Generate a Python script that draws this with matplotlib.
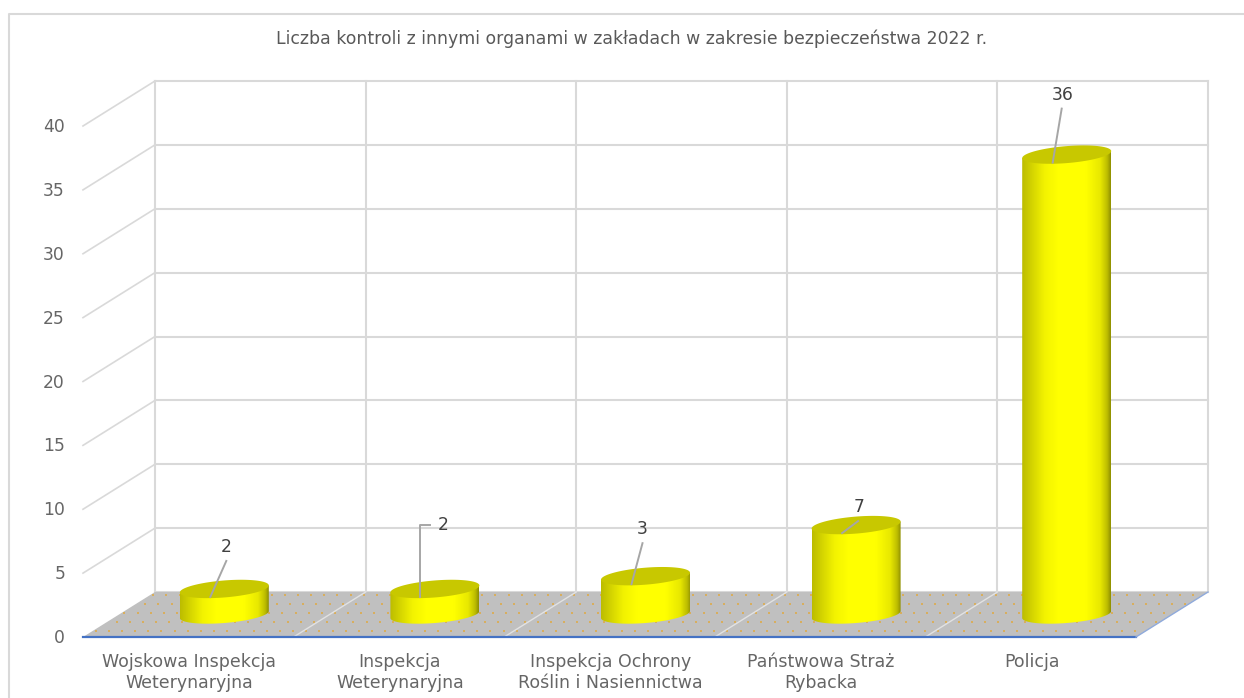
import numpy as np
import matplotlib
matplotlib.use("Agg")
import matplotlib.pyplot as plt
from matplotlib.patches import Polygon
from matplotlib.colors import LinearSegmentedColormap

plt.rcParams['font.family'] = ['DejaVu Sans']

title = "Liczba kontroli z innymi organami w zakładach w zakresie bezpieczeństwa 2022 r."
categories = ["Wojskowa Inspekcja\nWeterynaryjna", "Inspekcja\nWeterynaryjna",
              "Inspekcja Ochrony\nRoślin i Nasiennictwa", "Państwowa Straż\nRybacka", "Policja"]
values = [2, 2, 3, 7, 36]
yticks = [0, 5, 10, 15, 20, 25, 30, 35, 40]

W, H = 1244, 698
TEXT = '#666666'
GRID = '#d9d9d9'

# back wall of the 3D box, pixels
left, right, top, bottom = 155, 1208, 81, 592
fig = plt.figure(figsize=(W / 100, H / 100), dpi=100)
ax = fig.add_axes([0, 0, 1, 1])
ax.axis('off')

n = len(values)
ppx = (right - left) / n
ppy = (bottom - top) / 40
ax.set_xlim(-left / ppx, (W - left) / ppx)
ax.set_ylim((bottom - H) / ppy, bottom / ppy)
depth_x, depth_y = 72 / ppx, 45 / ppy


def project(x, y, depth):
    return x - depth * depth_x, y - depth * depth_y


# outer frame, only top and left show
fig.add_artist(plt.Line2D([9 / W, 9 / W, 1], [0, 1 - 14 / H, 1 - 14 / H], color=GRID, lw=1.5))

# floor
floor = [project(0, 0, 0), project(n, 0, 0), project(n, 0, 1), project(0, 0, 1)]
ax.add_patch(Polygon(floor, fc='#c0c0c0', ec='none', zorder=1))
u, v = np.meshgrid(np.arange(0.012, n, 0.0625), np.arange(0.06, 1, 0.2))
u = u + (np.arange(v.shape[0]) % 2)[:, None] * 0.031
dx, dy = project(u, 0, v)
keep = u < n - 0.01
ax.scatter(dx[keep], dy[keep], s=4, c='#d8ae5e', lw=0, marker='s', zorder=2)

# walls
for y in yticks:
    ax.plot([0, n], [y, y], color=GRID, lw=1.5, zorder=0)
    px, py = project(0, y, 1)
    if y > 0:
        ax.plot([0, px], [y, py], color=GRID, lw=1.2, zorder=0)
    ax.annotate(str(y), (px, py), xytext=(-18, -1), textcoords='offset pixels', ha='right', va='center',
                color=TEXT, fontsize=12.3)
for i in range(n + 1):
    ax.plot([i, i], [0, 40], color=GRID, lw=1.5, zorder=0)
    if 0 < i < n:
        fx, fy = project(i, 0, 1)
        ax.plot([i, fx], [0, fy], color='#e2e2e2', lw=1, zorder=3)

# front and right floor edges
ax.plot(*zip(project(0, 0, 1), project(n, 0, 1)), color='#4472c4', lw=1.6, zorder=4)
ax.plot(*zip(project(n, 0, 1), project(n, 0, 0)), color='#8faadc', lw=1, zorder=4)

# cylinders
shade = LinearSegmentedColormap.from_list('cyl', [(0, '#bcbc00'), (0.25, '#f2f200'), (0.4, '#ffff00'),
                                                  (0.72, '#ffff00'), (0.88, '#e8e800'), (0.96, '#bcbc00'),
                                                  (1, '#8f8f00')])
grad = np.linspace(0, 1, 256)[None, :]
a = 44.5 / ppx
b = 8.5 / ppy
tilt = 3.5 / ppy
t_low = np.linspace(np.pi, 2 * np.pi, 80)
t_all = np.linspace(0, 2 * np.pi, 120)

for i, val in enumerate(values):
    cx, cy = project(i + 0.5, 0, 0.5)
    low_x = cx + a * np.cos(t_low)
    low_y = cy + b * np.sin(t_low) + tilt * np.cos(t_low)
    top_y = val + cy + tilt * np.cos(t_low)
    body = Polygon(np.r_[np.c_[low_x, low_y], np.c_[low_x[::-1], top_y[::-1]]], fc='none', ec='none',
                   transform=ax.transData)
    ax.add_patch(body)
    im = ax.imshow(grad, cmap=shade, extent=[cx - a, cx + a, cy - 2, cy + val + 2], aspect='auto', zorder=5)
    im.set_clip_path(body)
    cap = np.c_[cx + a * np.cos(t_all), cy + val + b * np.sin(t_all) + tilt * np.cos(t_all)]
    ax.add_patch(Polygon(cap, fc='#c8c800', ec='none', zorder=6))

# data labels with leader lines, offsets in pixels from the cylinder top
leaders = [[(-14, -8), (2, 28)], [(-15, -8), (-15, 64), (-5, 64)], [(-14, -8), (-3, 33)],
           [(-14, -8), (2, 4)], [(-14, -8), (-5, 46)]]
label_pos = [(2, 42), (8, 64), (-3, 47), (3, 18), (-4, 60)]
for i, val in enumerate(values):
    cx, cy = project(i + 0.5, 0, 0.5)
    base = ax.transData.transform((cx, cy + val))
    pts = np.array(leaders[i], float) + base
    ax.plot(*ax.transData.inverted().transform(pts).T, color='#a6a6a6', lw=1.4, zorder=7)
    ax.annotate(str(val), (cx, cy + val), xytext=label_pos[i], textcoords='offset pixels', ha='center',
                va='center', color='#404040', fontsize=12.3, zorder=8)

# category labels
for i, name in enumerate(categories):
    px, py = project(i + 0.5, 0, 1)
    ax.annotate(name, (px, py), xytext=(1, -16), textcoords='offset pixels', ha='center', va='top',
                color=TEXT, fontsize=12.5, linespacing=1.2)

ax.set_xlim(-left / ppx, (W - left) / ppx)
ax.set_ylim((bottom - H) / ppy, bottom / ppy)
fig.text(632 / W, 1 - 39 / H, title, ha='center', va='center', color='#595959', fontsize=12.4)
fig.savefig('out.png', dpi=100)
